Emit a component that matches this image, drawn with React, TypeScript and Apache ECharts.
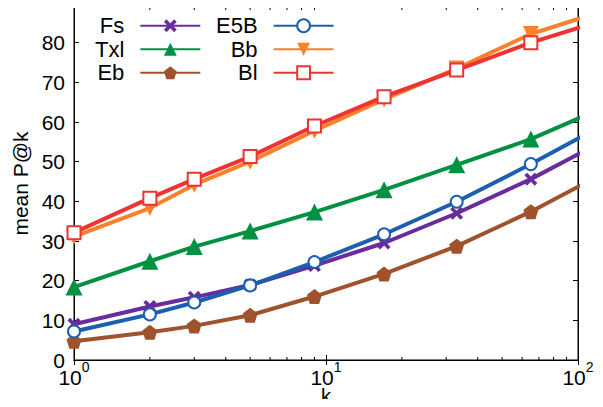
import React, { useEffect, useRef } from "react";
import * as echarts from "echarts";

const kValues = [1, 2, 3, 5, 9, 17, 33, 65, 129];
const seriesNames = ["Fs", "Txl", "Eb", "E5B", "Bb", "Bl"];
const fsValues = [9.0, 13.5, 15.8, 18.9, 23.8, 29.5, 37.0, 45.6, 55.6];
const txlValues = [18.4, 24.9, 28.6, 32.5, 37.3, 42.9, 49.2, 55.7, 63.9];
const ebValues = [4.7, 7.0, 8.6, 11.3, 16.0, 21.7, 28.7, 37.4, 47.4];
const e5bValues = [7.2, 11.5, 14.5, 18.8, 24.7, 31.7, 39.9, 49.4, 59.6];
const bbValues = [31.1, 38.3, 44.2, 50.0, 57.8, 65.7, 73.5, 82.2, 88.2];
const blValues = [32.1, 40.8, 45.6, 51.3, 59.0, 66.4, 73.1, 80.0, 85.9];
const minorTickValues = [2, 3, 4, 5, 6, 7, 8, 9, 20, 30, 40, 50, 60, 70, 80, 90];
const yMin = 0;
const yMax = 89;
const yInterval = 10;

const FONT = "Liberation Sans";

export default function App() {
  const ref = useRef<HTMLDivElement>(null);
  useEffect(() => {
    if (!ref.current) return;
    const chart = echarts.init(ref.current, undefined, { renderer: "svg" });

    const mk = (name: string, vals: number[], color: string, symbol: string, size: number, empty: boolean) => ({
      name,
      type: "line",
      data: kValues.map((k, i) => [k, vals[i]]),
      symbol,
      symbolSize: size,
      clip: true,
      lineStyle: { color, width: 4 },
      itemStyle: empty
        ? { color, borderColor: color, borderWidth: 3.5 }
        : { color, borderWidth: 0 },
      z: 3,
    });

    const xPath = "path://M0,2 L2,0 L5,3 L8,0 L10,2 L7,5 L10,8 L8,10 L5,7 L2,10 L0,8 L3,5 Z";
    const pentPath = "path://M5,0 L10,3.8 L8.1,10 L1.9,10 L0,3.8 Z";
    const downTri = "path://M0,0 L10,0 L5,9 Z";

    const legendCommon = {
      orient: "vertical",
      align: "right",
      itemWidth: 60,
      itemHeight: 16,
      itemGap: 0,
      textStyle: { fontFamily: FONT, fontSize: 22, color: "#000", lineHeight: 23.5, padding: [0, 11, 0, 0] },
      selectedMode: false,
    };

    const option: any = {
      animation: false,
      grid: {
        left: 74, right: 25, top: 7, bottom: 47,
        outerBoundsMode: "none", containLabel: false,
        show: true, borderColor: "#000", borderWidth: 1,
      },
      legend: [
        { ...legendCommon, data: seriesNames.slice(0, 3), left: 90, top: 9 },
        { ...legendCommon, data: seriesNames.slice(3), left: 211, top: 9 },
      ],
      xAxis: [
        {
          type: "log",
          logBase: 10,
          min: 1,
          max: 100,
          name: "k",
          nameLocation: "middle",
          nameGap: 29,
          nameMoveOverlap: false,
          nameTextStyle: { fontFamily: FONT, fontSize: 20, color: "#000", lineHeight: 14 },
          axisLine: { lineStyle: { color: "#000", width: 1 } },
          axisTick: { inside: true, length: 5, lineStyle: { color: "#000" } },
          splitLine: { show: false },
          axisLabel: {
            margin: 7,
            formatter: (v: number) => `{b|10}{sup|${Math.round(Math.log10(v))}}`,
            rich: {
              b: { fontFamily: FONT, fontSize: 21, color: "#000", lineHeight: 21 },
              sup: { fontFamily: FONT, fontSize: 14, color: "#000", lineHeight: 14, verticalAlign: "top", padding: [-7, 0, 0, 0] },
            },
          },
        },
        {
          type: "log",
          logBase: 10,
          min: 1,
          max: 100,
          position: "top",
          axisLine: { lineStyle: { color: "#000", width: 1 } },
          axisTick: { inside: true, length: 5, lineStyle: { color: "#000" } },
          axisLabel: { show: false },
          splitLine: { show: false },
        },
      ],
      yAxis: [
        {
          type: "value",
          min: yMin,
          max: yMax,
          interval: yInterval,
          name: "mean P@k",
          nameLocation: "middle",
          nameGap: 24,
          nameTextStyle: { fontFamily: FONT, fontSize: 21, color: "#000" },
          axisLine: { show: true, lineStyle: { color: "#000", width: 1 } },
          axisTick: { show: true, inside: true, length: 5, lineStyle: { color: "#000" } },
          splitLine: { show: false },
          axisLabel: {
            fontFamily: FONT,
            fontSize: 21,
            lineHeight: 16,
            color: "#000",
            margin: 9,
            showMaxLabel: false,
            formatter: (v: number) => (v % yInterval === 0 ? String(v) : ""),
          },
        },
        {
          type: "value",
          min: yMin,
          max: yMax,
          interval: yInterval,
          position: "right",
          axisLine: { show: true, lineStyle: { color: "#000", width: 1 } },
          axisTick: { show: true, inside: true, length: 5, lineStyle: { color: "#000" } },
          splitLine: { show: false },
          axisLabel: { show: false },
        },
      ],
      series: [
        {
          name: "minorTicks",
          type: "custom",
          silent: true,
          xAxisIndex: 0,
          yAxisIndex: 0,
          data: minorTickValues.map((v) => [v, yMin]),
          renderItem: (params: any, api: any) => {
            const v = api.value(0);
            const b = api.coord([v, yMin]);
            const t = api.coord([v, yMax]);
            return {
              type: "group",
              children: [
                { type: "line", shape: { x1: b[0], y1: b[1], x2: b[0], y2: b[1] - 3 }, style: { stroke: "#000", lineWidth: 1 } },
                { type: "line", shape: { x1: t[0], y1: t[1], x2: t[0], y2: t[1] + 3 }, style: { stroke: "#000", lineWidth: 1 } },
              ],
            };
          },
          z: 1,
        },
        mk("Fs", fsValues, "#6a2c9c", xPath, 13, false),
        mk("Txl", txlValues, "#009142", "triangle", 17, false),
        mk("Eb", ebValues, "#a0522d", pentPath, 15, false),
        mk("E5B", e5bValues, "#1a5fb0", "emptyCircle", 12, true),
        mk("Bb", bbValues, "#f8812a", downTri, 16, false),
        mk("Bl", blValues, "#ee3333", "emptyRect", 13, true),
      ],
    };

    chart.setOption(option);
    return () => chart.dispose();
  }, []);

  return <div ref={ref} style={{ width: 603, height: 407, margin: -8 }} />;
}
